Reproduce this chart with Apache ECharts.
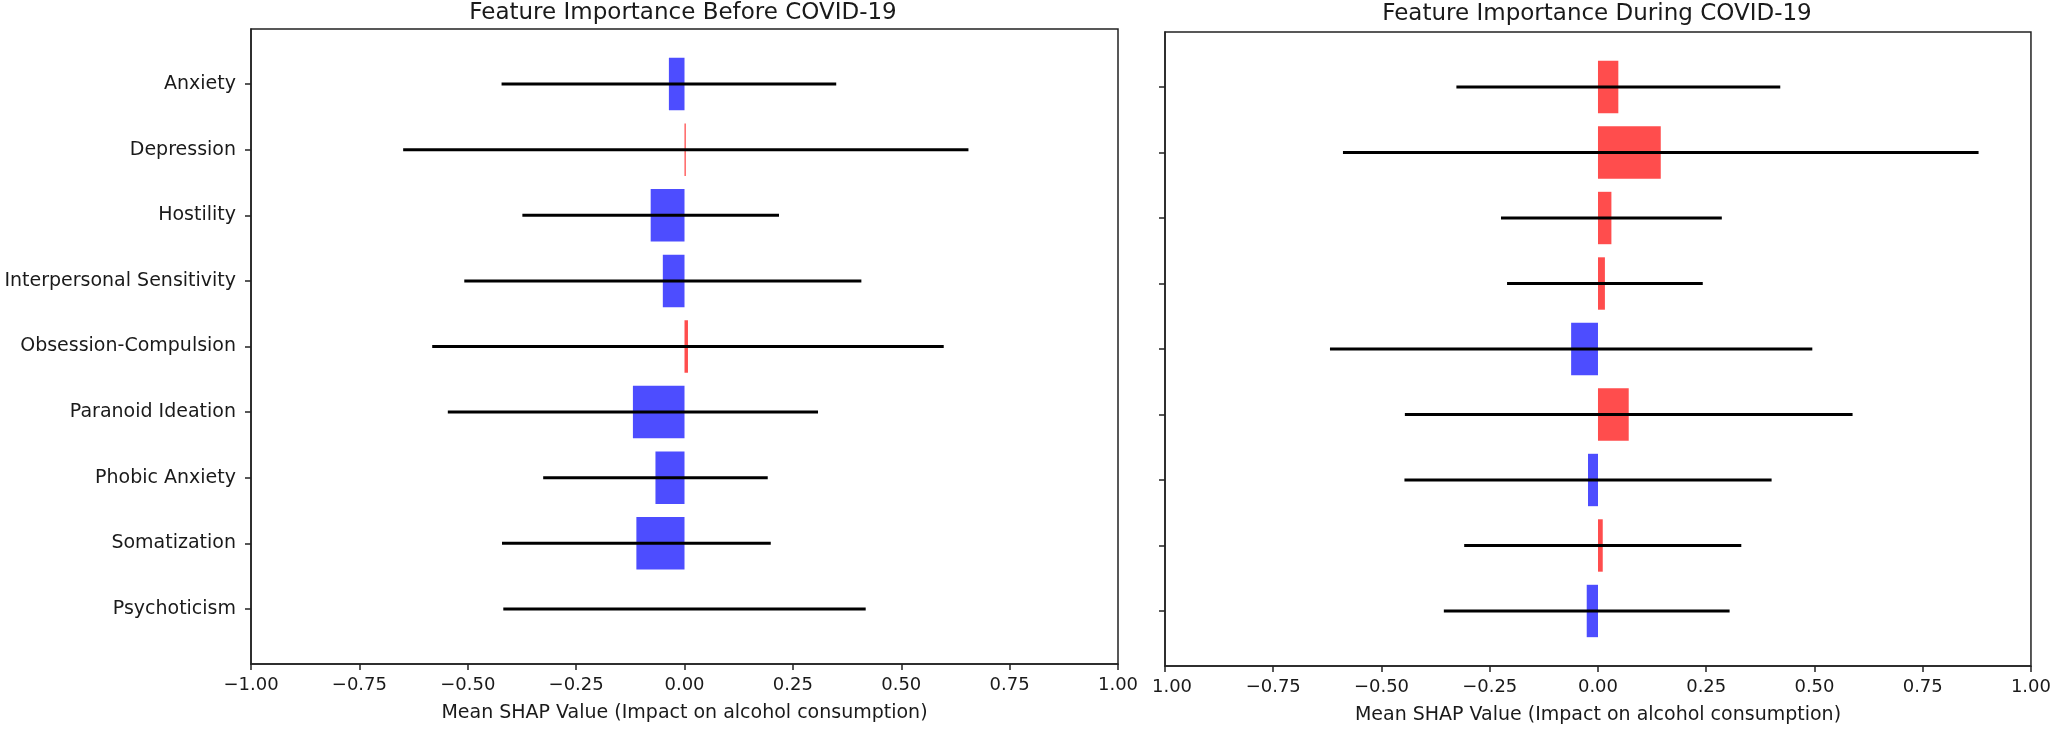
<!DOCTYPE html>
<html>
<head>
<meta charset="utf-8">
<script src="https://cdn.jsdelivr.net/npm/echarts@6/dist/echarts.min.js"></script>
<style>
html,body{margin:0;padding:0;background:#fff;}
#chart{width:2054px;height:730px;}
</style>
</head>
<body>
<div id="chart"></div>
<script>
// ---- data ----
const categories = ['Anxiety','Depression','Hostility','Interpersonal Sensitivity','Obsession-Compulsion','Paranoid Ideation','Phobic Anxiety','Somatization','Psychoticism'];
const beforeMean = [-0.036, 0.003, -0.078, -0.050, 0.008, -0.119, -0.067, -0.111, 0.0];
const beforeErr  = [0.386, 0.652, 0.296, 0.458, 0.590, 0.427, 0.259, 0.310, 0.418];
const duringMean = [0.047, 0.145, 0.031, 0.016, -0.062, 0.071, -0.023, 0.011, -0.026];
const duringErr  = [0.374, 0.734, 0.255, 0.226, 0.557, 0.517, 0.424, 0.320, 0.330];
const xTicks = [-1, -0.75, -0.5, -0.25, 0, 0.25, 0.5, 0.75, 1];
const titles = ['Feature Importance Before COVID-19', 'Feature Importance During COVID-19'];
const xName = 'Mean SHAP Value (Impact on alcohol consumption)';

const FONT = 'DejaVu Sans';
const POS = '#ff4d4d', NEG = '#4d4dff';
const idx = categories.map((_, i) => i);

function barData(means){ return means.map((v, i) => [v, i]); }
function errData(means, errs){ return means.map((v, i) => [v - errs[i], v + errs[i], i]); }

function barRender(params, api){
  const v = api.value(0), i = api.value(1);
  const p0 = api.coord([0, i - 0.4]);
  const p1 = api.coord([v, i + 0.4]);
  return {
    type: 'rect',
    shape: {x: Math.min(p0[0], p1[0]), y: Math.min(p0[1], p1[1]), width: Math.abs(p1[0] - p0[0]), height: Math.abs(p1[1] - p0[1])},
    style: {fill: v >= 0 ? POS : NEG}
  };
}
function errRender(params, api){
  const i = api.value(2);
  const a = api.coord([api.value(0), i]);
  const b = api.coord([api.value(1), i]);
  return {type: 'line', shape: {x1: a[0], y1: a[1], x2: b[0], y2: b[1]}, style: {stroke: '#000', lineWidth: 3}};
}

function fmtX(isRight){
  return function(v){
    if (isRight && Math.abs(v + 1) < 1e-9) return '{cut|1.00}';
    const s = Math.abs(v).toFixed(2);
    return v < -1e-9 ? '\u2212' + s : s;
  };
}

function xAxis(gi, isRight){
  return {
    type: 'value', gridIndex: gi, min: -1, max: 1, interval: 0.25,
    name: xName, nameLocation: 'middle', nameGap: 40,
    nameTextStyle: {fontFamily: FONT, fontSize: 19, color: '#1a1a1a'},
    axisLine: {show: true, onZero: false, lineStyle: {color: '#222', width: 1.5}},
    axisTick: {show: true, length: 6, lineStyle: {color: '#222', width: 1.5}},
    axisLabel: {fontFamily: FONT, fontSize: 18, color: '#1a1a1a', margin: 12, formatter: fmtX(isRight),
      rich: {cut: {fontFamily: FONT, fontSize: 18, color: '#1a1a1a', padding: [0, 0, 0, 14]}}},
    splitLine: {show: false}
  };
}
function yAxis(gi, showLabels){
  return {
    type: 'value', gridIndex: gi, inverse: true, min: -0.84, max: 8.84,
    axisLine: {show: true, onZero: false, lineStyle: {color: '#222', width: 1.5}},
    axisTick: {show: true, length: 6, customValues: idx, lineStyle: {color: '#222', width: 1.5}},
    axisLabel: {show: showLabels, customValues: idx, fontFamily: FONT, fontSize: 19, color: '#1a1a1a', margin: 15,
      formatter: v => categories[Math.round(v)]},
    splitLine: {show: false}
  };
}

const chart = echarts.init(document.getElementById('chart'), null, {renderer: 'canvas'});
chart.setOption({
  backgroundColor: '#fff',
  animation: false,
  title: [
    {text: titles[0], left: 683, top: 2, padding: 0, textAlign: 'center', textStyle: {fontFamily: FONT, fontSize: 23, fontWeight: 'normal', color: '#1a1a1a'}},
    {text: titles[1], left: 1597, top: 3, padding: 0, textAlign: 'center', textStyle: {fontFamily: FONT, fontSize: 23, fontWeight: 'normal', color: '#1a1a1a'}}
  ],
  grid: [
    {left: 251, top: 29, width: 867, height: 635, show: true, borderColor: '#222', borderWidth: 1.5, backgroundColor: 'transparent'},
    {left: 1165, top: 32, width: 867, height: 635, show: true, borderColor: '#222', borderWidth: 1.5, backgroundColor: 'transparent'}
  ],
  xAxis: [xAxis(0, false), xAxis(1, true)],
  yAxis: [yAxis(0, true), yAxis(1, false)],
  series: [
    {type: 'custom', xAxisIndex: 0, yAxisIndex: 0, data: barData(beforeMean), renderItem: barRender, z: 2, silent: true},
    {type: 'custom', xAxisIndex: 0, yAxisIndex: 0, data: errData(beforeMean, beforeErr), renderItem: errRender, z: 3, silent: true},
    {type: 'custom', xAxisIndex: 1, yAxisIndex: 1, data: barData(duringMean), renderItem: barRender, z: 2, silent: true},
    {type: 'custom', xAxisIndex: 1, yAxisIndex: 1, data: errData(duringMean, duringErr), renderItem: errRender, z: 3, silent: true}
  ]
});
</script>
</body>
</html>
